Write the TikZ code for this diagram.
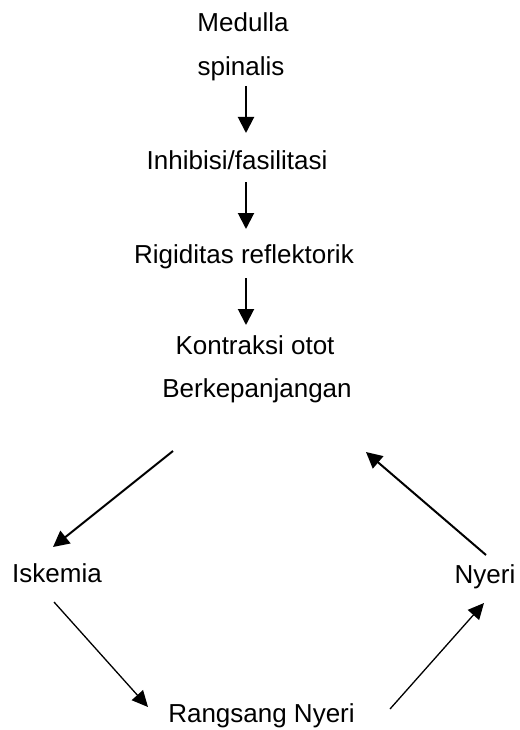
\documentclass[tikz,border=0pt]{standalone}
\usepackage{fontspec}
\setmainfont{Liberation Sans}
\usetikzlibrary{arrows.meta}
\begin{document}
\begin{tikzpicture}[x=1pt,y=-1pt,
  lbl/.style={anchor=base,inner sep=0pt,font=\fontsize{26}{31}\selectfont},
  thick arrow/.style={line width=2pt,-{Triangle[width=16pt,length=16pt]}},
  thin arrow/.style={line width=1.3pt,-{Triangle[width=15pt,length=16pt]}}]
\useasboundingbox (0,0) rectangle (519,730);
\node[lbl] (med) at (243,32) {Medulla};
\node[lbl] (spi) at (241,76) {spinalis};
\node[lbl] (inh) at (237,169) {Inhibisi/fasilitasi};
\node[lbl] (rig) at (244,263) {Rigiditas reflektorik};
\node[lbl] (kon) at (255,354) {Kontraksi otot};
\node[lbl] (ber) at (257,397) {Berkepanjangan};
\node[lbl] (isk) at (57,582) {Iskemia};
\node[lbl] (nye) at (485,583) {Nyeri};
\node[lbl] (ran) at (261.5,722) {Rangsang Nyeri};
\coordinate (a1s) at (246,86);  \coordinate (a1e) at (246,133);
\coordinate (a2s) at (246,182); \coordinate (a2e) at (246,229);
\coordinate (a3s) at (246,278); \coordinate (a3e) at (246,325);
\coordinate (b1s) at (173,451); \coordinate (b1e) at (53,547);
\coordinate (b2s) at (486,555); \coordinate (b2e) at (366,452);
\coordinate (c1s) at (54,602);  \coordinate (c1e) at (148,707);
\coordinate (c2s) at (390,709); \coordinate (c2e) at (484,603);
\draw[thick arrow] (a1s) -- (a1e);
\draw[thick arrow] (a2s) -- (a2e);
\draw[thick arrow] (a3s) -- (a3e);
\draw[thick arrow] (b1s) -- (b1e);
\draw[thick arrow] (b2s) -- (b2e);
\draw[thin arrow] (c1s) -- (c1e);
\draw[thin arrow] (c2s) -- (c2e);
\end{tikzpicture}
\end{document}
